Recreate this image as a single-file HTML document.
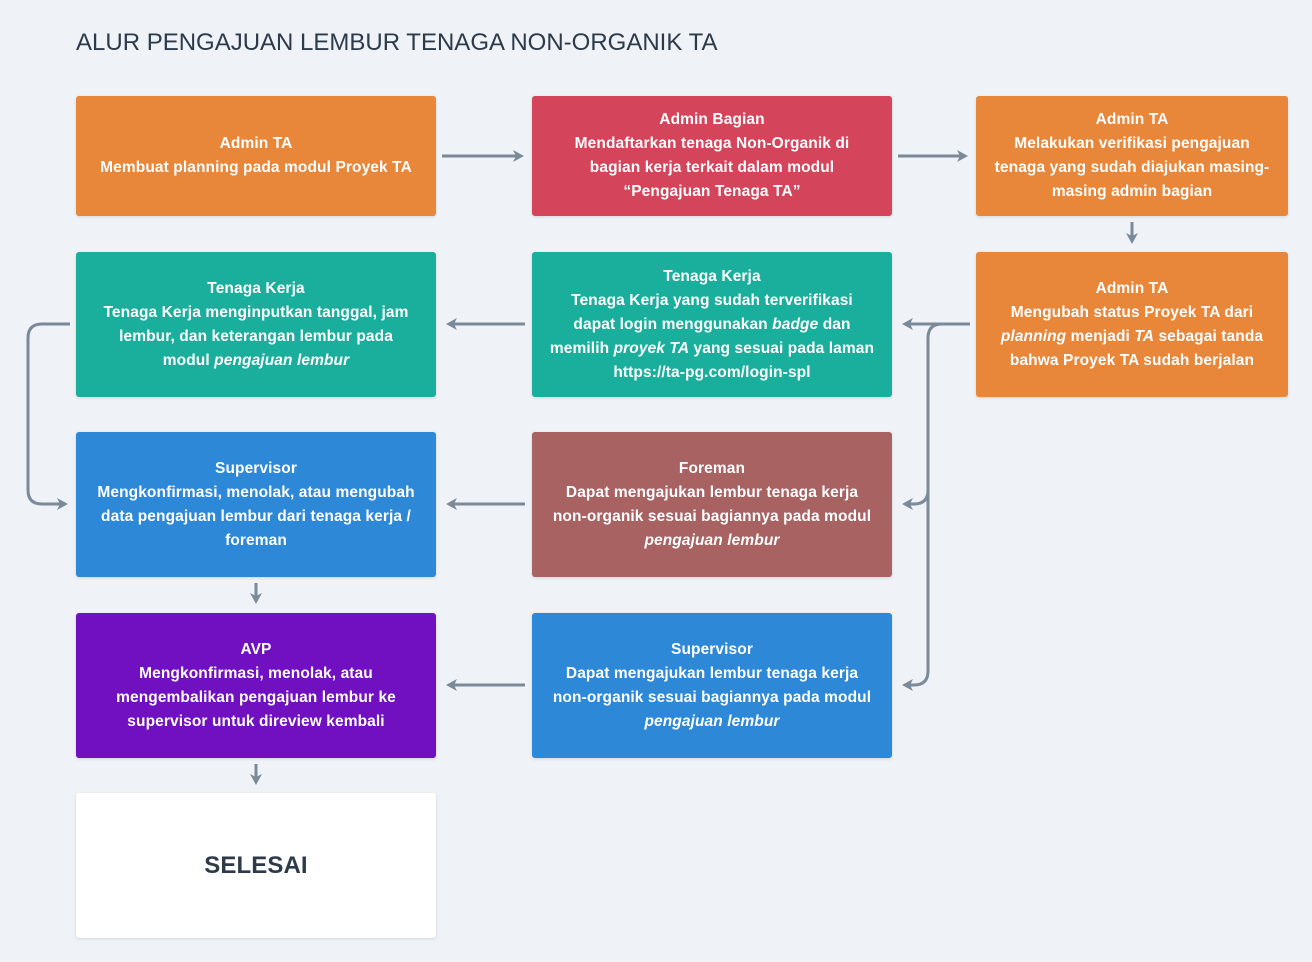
<!DOCTYPE html>
<html><head><meta charset="utf-8"><style>
body{margin:0;width:1312px;height:962px;background:#eff3f7;font-family:"Liberation Sans",sans-serif;position:relative;overflow:hidden}
h1{position:absolute;left:76px;top:29px;margin:0;font-size:24px;font-weight:normal;color:#2d3a4a;letter-spacing:0px}
.b{position:absolute;border-radius:3px;color:#fff;font-size:15.5px;font-weight:bold;line-height:24px;text-align:center;display:flex;align-items:center;justify-content:center;box-sizing:border-box;padding:0 2px;box-shadow:0 1px 3px rgba(0,0,0,.12);white-space:nowrap;letter-spacing:0.1px}
.b b{font-weight:bold}
.o{background:#e8863a}.r{background:#d4445a}.t{background:#1aaf9c}.bl{background:#2e88d8}.br{background:#a86262}.p{background:#7010c0}
svg{position:absolute;left:0;top:0}
</style></head><body>
<h1>ALUR PENGAJUAN LEMBUR TENAGA NON-ORGANIK TA</h1>
<div class="b o" style="left:76px;top:96px;width:360px;height:120px"><div><b>Admin TA</b><br>Membuat planning pada modul Proyek TA</div></div>
<div class="b r" style="left:532px;top:96px;width:360px;height:120px"><div><b>Admin Bagian</b><br>Mendaftarkan tenaga Non-Organik di<br>bagian kerja terkait dalam modul<br>“Pengajuan Tenaga TA”</div></div>
<div class="b o" style="left:976px;top:96px;width:312px;height:120px"><div><b>Admin TA</b><br>Melakukan verifikasi pengajuan<br>tenaga yang sudah diajukan masing-<br>masing admin bagian</div></div>
<div class="b t" style="left:76px;top:252px;width:360px;height:145px"><div><b>Tenaga Kerja</b><br>Tenaga Kerja menginputkan tanggal, jam<br>lembur, dan keterangan lembur pada<br>modul <b><i>pengajuan lembur</i></b></div></div>
<div class="b t" style="left:532px;top:252px;width:360px;height:145px"><div><b>Tenaga Kerja</b><br>Tenaga Kerja yang sudah terverifikasi<br>dapat login menggunakan <b><i>badge</i></b> dan<br>memilih <b><i>proyek TA</i></b> yang sesuai pada laman<br>https://ta-pg.com/login-spl</div></div>
<div class="b o" style="left:976px;top:252px;width:312px;height:145px"><div><b>Admin TA</b><br>Mengubah status Proyek TA dari<br><b><i>planning</i></b> menjadi <b><i>TA</i></b> sebagai tanda<br>bahwa Proyek TA sudah berjalan</div></div>
<div class="b bl" style="left:76px;top:432px;width:360px;height:145px"><div><b>Supervisor</b><br>Mengkonfirmasi, menolak, atau mengubah<br>data pengajuan lembur dari tenaga kerja /<br>foreman</div></div>
<div class="b br" style="left:532px;top:432px;width:360px;height:145px"><div><b>Foreman</b><br>Dapat mengajukan lembur tenaga kerja<br>non-organik sesuai bagiannya pada modul<br><b><i>pengajuan lembur</i></b></div></div>
<div class="b p" style="left:76px;top:613px;width:360px;height:145px"><div><b>AVP</b><br>Mengkonfirmasi, menolak, atau<br>mengembalikan pengajuan lembur ke<br>supervisor untuk direview kembali</div></div>
<div class="b bl" style="left:532px;top:613px;width:360px;height:145px"><div><b>Supervisor</b><br>Dapat mengajukan lembur tenaga kerja<br>non-organik sesuai bagiannya pada modul<br><b><i>pengajuan lembur</i></b></div></div>
<div class="b" style="left:76px;top:793px;width:360px;height:145px;background:#fff;color:#2d3a4a;font-size:24px;font-weight:bold">SELESAI</div>
<svg width="1312" height="962" fill="none" stroke="#7b8a99" stroke-width="3">
<defs><marker id="a" markerWidth="11" markerHeight="12" refX="3" refY="6" orient="auto" markerUnits="userSpaceOnUse"><path d="M0,0 L11,6 L0,12 L3,6 z" fill="#7b8a99" stroke="none"/></marker></defs>
<path d="M442,156H516" marker-end="url(#a)"/>
<path d="M898,156H960" marker-end="url(#a)"/>
<path d="M1132,222V236" marker-end="url(#a)"/>
<path d="M970,324H910" marker-end="url(#a)"/>
<path d="M525,324H454" marker-end="url(#a)"/>
<path d="M942,324Q928,324 928,338V490Q928,504 914,504H910" marker-end="url(#a)"/>
<path d="M928,490V671Q928,685 914,685H910" marker-end="url(#a)"/>
<path d="M70,324H42Q28,324 28,338V490Q28,504 42,504H60" marker-end="url(#a)"/>
<path d="M525,504H454" marker-end="url(#a)"/>
<path d="M525,685H454" marker-end="url(#a)"/>
<path d="M256,583V596" marker-end="url(#a)"/>
<path d="M256,764V777" marker-end="url(#a)"/>
</svg>
</body></html>
